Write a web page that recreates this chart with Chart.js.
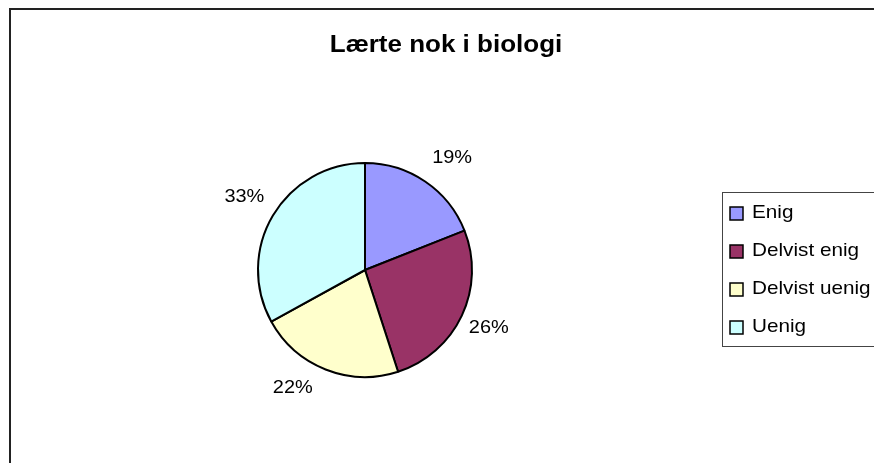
<!DOCTYPE html>
<html>
<head>
<meta charset="utf-8">
<script src="https://cdn.jsdelivr.net/npm/chart.js@4.4.1/dist/chart.umd.min.js"></script>
<style>
  html, body { margin: 0; padding: 0; background: #fff; }
  #wrap { width: 874px; height: 463px; position: relative; }
</style>
</head>
<body>
<div id="wrap"><canvas id="c" width="874" height="463"></canvas></div>
<script>
const title = 'Lærte nok i biologi';
const categories = ['Enig', 'Delvist enig', 'Delvist uenig', 'Uenig'];
const values = [19, 26, 22, 33];
const valueLabels = ['19%', '26%', '22%', '33%'];
const colors = ['#9999FF', '#993366', '#FFFFCC', '#CCFFFF'];

const FONT = '"Liberation Sans", Arial, sans-serif';
// small placement nudges for the outside value labels (Excel "best fit" style)
const labelNudge = [[9, 3], [-2, -1], [-21, -11], [-1, -2]];

// draw text with a slight horizontal stretch (mimics the wide GDI glyphs)
function wideText(ctx, text, x, y, align, sx) {
  ctx.save();
  ctx.translate(x, y);
  ctx.scale(sx, 1);
  ctx.textAlign = align;
  ctx.fillText(text, 0, 0);
  ctx.restore();
}

const framePlugin = {
  id: 'frame',
  beforeDraw(chart) {
    const ctx = chart.ctx;
    ctx.save();
    ctx.fillStyle = '#fff';
    ctx.fillRect(0, 0, chart.width, chart.height);
    ctx.strokeStyle = '#222';
    ctx.lineWidth = 2;
    ctx.strokeRect(10, 9, 900, 500);
    ctx.restore();
  },
  afterDraw(chart) {
    const ctx = chart.ctx;
    ctx.save();
    // title
    ctx.fillStyle = '#000';
    ctx.font = 'bold 23px ' + FONT;
    ctx.textBaseline = 'alphabetic';
    wideText(ctx, title, 446, 52, 'center', 1.13);

    // value labels
    const meta = chart.getDatasetMeta(0);
    ctx.font = '19px ' + FONT;
    ctx.textBaseline = 'middle';
    meta.data.forEach((arc, i) => {
      const p = arc.getProps(['x', 'y', 'startAngle', 'endAngle', 'outerRadius'], true);
      const mid = (p.startAngle + p.endAngle) / 2;
      const r = p.outerRadius + 32;
      wideText(ctx, valueLabels[i],
        p.x + Math.cos(mid) * r + labelNudge[i][0],
        p.y + Math.sin(mid) * r + labelNudge[i][1], 'center', 1.05);
    });

    // legend
    const lx = 722, ly = 192, lh = 154;
    ctx.strokeStyle = '#444';
    ctx.lineWidth = 1;
    ctx.strokeRect(lx + 0.5, ly + 0.5, 300, lh);
    const rows = [213, 251, 289, 327];
    categories.forEach((name, i) => {
      const y = rows[i];
      ctx.fillStyle = colors[i];
      ctx.fillRect(730, y - 6, 13, 13);
      ctx.strokeStyle = '#000';
      ctx.lineWidth = 1.5;
      ctx.strokeRect(730, y - 6, 13, 13);
      ctx.fillStyle = '#000';
      wideText(ctx, name, 752, y, 'left', 1.09);
    });
    ctx.restore();
  }
};

new Chart(document.getElementById('c'), {
  type: 'pie',
  data: {
    labels: categories,
    datasets: [{
      data: values,
      backgroundColor: colors,
      borderColor: '#000',
      borderWidth: 2,
      borderAlign: 'center'
    }]
  },
  options: {
    responsive: false,
    animation: false,
    radius: 107,
    layout: { padding: { left: 240, right: 384, top: 150, bottom: 73 } },
    plugins: {
      legend: { display: false },
      title: { display: false },
      tooltip: { enabled: false }
    }
  },
  plugins: [framePlugin]
});
</script>
</body>
</html>
